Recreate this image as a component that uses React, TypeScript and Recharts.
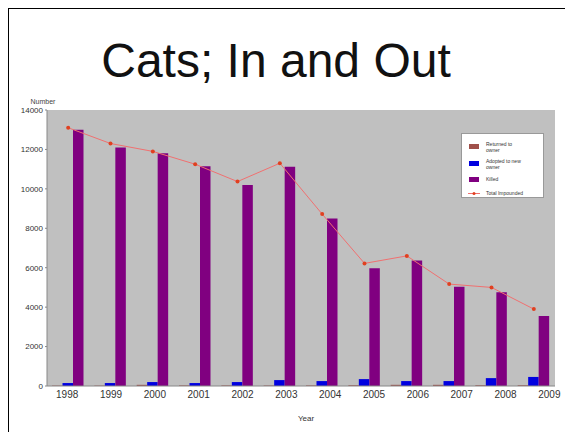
import React from 'react';
import {
  ComposedChart,
  Bar,
  Line,
  XAxis,
  YAxis,
  CartesianGrid,
  Legend,
  Label,
} from 'recharts';

const years = ['1998', '1999', '2000', '2001', '2002', '2003', '2004', '2005', '2006', '2007', '2008', '2009'];
const returnedToOwner = [20, 20, 60, 30, 30, 30, 30, 40, 60, 60, 40, 40];
const adoptedToNewOwner = [150, 150, 200, 150, 200, 300, 250, 350, 250, 250, 400, 460];
const killed = [13000, 12100, 11800, 11150, 10200, 11120, 8500, 5970, 6360, 5040, 4750, 3550];
const totalImpounded = [13100, 12300, 11900, 11250, 10370, 11300, 8720, 6220, 6600, 5170, 5000, 3900];
const yTicks = [0, 2000, 4000, 6000, 8000, 10000, 12000, 14000];

const data = years.map((year, i) => ({
  year,
  returned: returnedToOwner[i],
  adopted: adoptedToNewOwner[i],
  killed: killed[i],
  total: totalImpounded[i],
}));

const FONT = '"Liberation Sans", Arial, sans-serif';

const legendItems = [
  { label: ['Returned to', 'owner'], color: '#a0504a', type: 'rect' },
  { label: ['Adopted to new', 'owner'], color: '#0000e0', type: 'rect' },
  { label: ['Killed'], color: '#800080', type: 'rect' },
  { label: ['Total Impounded'], color: '#f07070', type: 'line' },
];

function renderLegend() {
  return (
    <div
      style={{
        width: 83,
        height: 65,
        background: '#fff',
        border: '1px solid #999',
        boxSizing: 'border-box',
        fontFamily: FONT,
        fontSize: 5,
        color: '#333',
        paddingTop: 4,
      }}
    >
      {legendItems.map(item => (
        <div
          key={item.label[0]}
          style={{ display: 'flex', alignItems: 'center', height: item.label.length > 1 ? 17 : 14 }}
        >
          <div style={{ width: 24, display: 'flex', justifyContent: 'center' }}>
            {item.type === 'rect' ? (
              <div style={{ width: 10, height: 5, background: item.color }} />
            ) : (
              <svg width={12} height={5}>
                <line x1={0} y1={2.5} x2={12} y2={2.5} stroke={item.color} strokeWidth={1} />
                <circle cx={6} cy={2.5} r={1.5} fill="#e04020" />
              </svg>
            )}
          </div>
          <div style={{ lineHeight: '6px' }}>
            {item.label.map(t => (
              <div key={t}>{t}</div>
            ))}
          </div>
        </div>
      ))}
    </div>
  );
}

function YearTick(props: any) {
  const { x, y, payload, index } = props;
  return (
    <text
      x={x + index * 1.5 - 1}
      y={y + 12}
      textAnchor="middle"
      fontSize={10}
      fontFamily={FONT}
      fill="#333"
    >
      {payload.value}
    </text>
  );
}

export default function App() {
  return (
    <div style={{ position: 'relative', width: 565, height: 424, background: '#fff' }}>
      <div style={{ position: 'absolute', left: -1, top: -1, width: 2, height: 430, background: '#000' }} />
      <div style={{ position: 'absolute', left: -1, top: -1, width: 570, height: 2, background: '#000' }} />
      <div
        style={{
          position: 'absolute',
          left: 0,
          top: 29,
          width: 536,
          textAlign: 'center',
          fontFamily: FONT,
          fontSize: 48,
          lineHeight: '48px',
          color: '#111',
        }}
      >
        Cats; In and Out
      </div>
      <div style={{ position: 'absolute', left: 0, top: 0 }}>
        <ComposedChart
          width={565}
          height={424}
          data={data}
          margin={{ top: 102, right: 18, bottom: 16, left: 9 }}
          barSize={10.5}
          barGap={0}
        >
          <CartesianGrid fill="#c0c0c0" horizontal={false} vertical={false} />
          <XAxis
            dataKey="year"
            height={30}
            tickLine={false}
            tickSize={0}
            tickMargin={0}
            axisLine={{ stroke: '#888' }}
            tick={<YearTick />}
            interval={0}
          >
            <Label value="Year" position="insideBottom" offset={-5} dx={5} fontSize={8} fontFamily={FONT} fill="#333" />
          </XAxis>
          <YAxis
            width={30}
            domain={[0, 14000]}
            ticks={yTicks}
            tickSize={2}
            tickMargin={2}
            tick={{ fontSize: 8, fontFamily: FONT, fill: '#333' }}
            axisLine={{ stroke: '#888' }}
            tickLine={{ stroke: '#888' }}
          >
            <Label value="Number" position="top" offset={6} dx={11} fontSize={7} fontFamily={FONT} fill="#444" />
          </YAxis>
          <Legend
            layout="vertical"
            align="center"
            verticalAlign="middle"
            wrapperStyle={{ left: 453, top: 125, width: 83, height: 65 }}
            content={renderLegend}
          />
          <Bar dataKey="returned" name="Returned to owner" fill="#a0504a" isAnimationActive={false} />
          <Bar dataKey="adopted" name="Adopted to new owner" fill="#0000e0" isAnimationActive={false} />
          <Bar dataKey="killed" name="Killed" fill="#800080" isAnimationActive={false} />
          <Line
            dataKey="total"
            name="Total Impounded"
            type="linear"
            stroke="#f07070"
            strokeWidth={1}
            dot={{ r: 2, fill: '#e04020', stroke: 'none' }}
            isAnimationActive={false}
          />
        </ComposedChart>
      </div>
    </div>
  );
}
